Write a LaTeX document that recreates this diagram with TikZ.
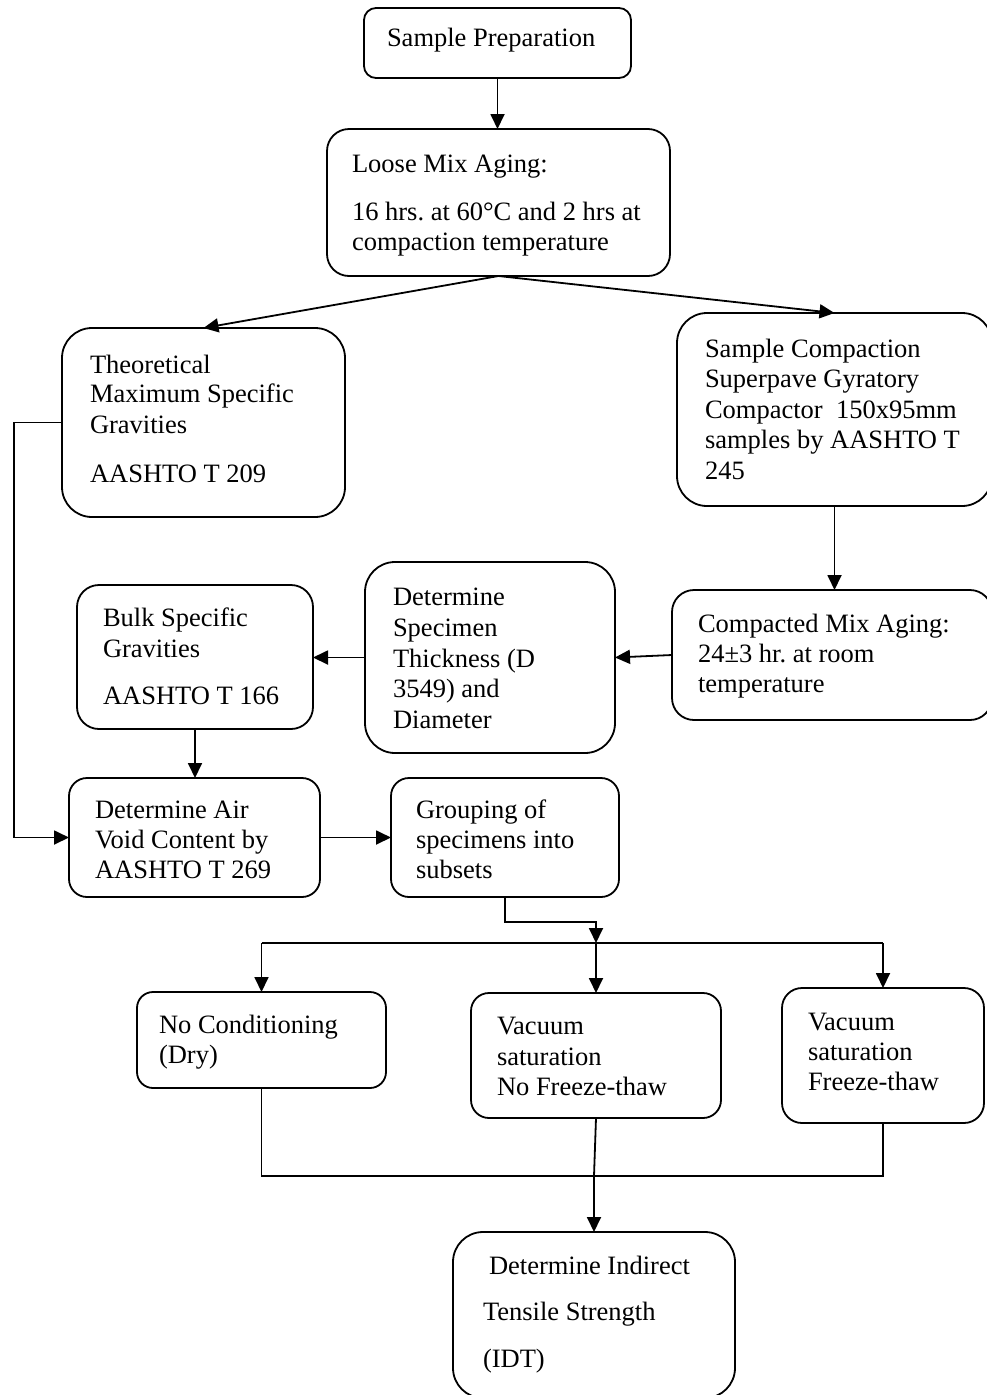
\documentclass[tikz,border=0pt]{standalone}
\usepackage{fontspec}
\setmainfont{Liberation Serif}
\usetikzlibrary{arrows.meta,calc}
\frenchspacing
\tikzset{
  box/.style={draw=black,line width=1.8pt,inner sep=0pt,outer sep=0pt,rectangle},
  txt/.style={inner sep=0pt,outer sep=0pt,anchor=base west,font=\fontsize{26.5}{30.5}\selectfont},
  conn/.style={line width=1.8pt},
  arr/.style={line width=1.8pt,-{Triangle[length=15pt,width=14pt]}}
}
\newcommand{\mybox}[6]{\node[box,rounded corners=#6pt,minimum width=#4pt,minimum height=#5pt,anchor=north west] (#1) at (#2,#3) {};}
\newcommand{\mytl}[4]{\node[txt] (#1) at (#2,#3) {#4};}
\begin{document}
\begin{tikzpicture}[x=1pt,y=-1pt]
\fill[white] (0,0) rectangle (986,1395);
\useasboundingbox (0,0) rectangle (986,1395);
% boxes
\mybox{sp}{364}{8}{267}{70}{12}
\mybox{lm}{327}{129}{343}{147}{22}
\mybox{tm}{62}{328}{283}{189}{30}
\mybox{sc}{677}{313}{315}{193}{30}
\mybox{cm}{672}{590}{320}{130}{22}
\mybox{bk}{77}{585}{236}{144}{22}
\mybox{ds}{365}{562}{250}{191}{30}
\mybox{av}{69}{778}{251}{119}{18}
\mybox{gr}{391}{778}{228}{119}{18}
\mybox{nc}{137}{992}{249}{96}{16}
\mybox{va}{471}{993}{250}{125}{18}
\mybox{vb}{782}{988}{202}{135}{20}
\mybox{idt}{453}{1232}{282}{166}{30}
% texts
\mytl{sp1}{387}{46}{Sample Preparation}
\mytl{lm1}{352}{172}{Loose Mix Aging:}
\mytl{lm2}{352}{220}{16 hrs. at 60°C and 2 hrs at}
\mytl{lm3}{352}{250}{compaction temperature}
\mytl{tm1}{90}{373}{Theoretical}
\mytl{tm2}{90}{402}{Maximum Specific}
\mytl{tm3}{90}{433}{Gravities}
\mytl{tm4}{90}{482}{AASHTO T 209}
\mytl{sc1}{705}{357}{Sample Compaction}
\mytl{sc2}{705}{387}{Superpave Gyratory}
\mytl{sc3}{705}{418}{Compactor\ \ 150x95mm}
\mytl{sc4}{705}{448}{samples by AASHTO T}
\mytl{sc5}{705}{479}{245}
\mytl{cm1}{698}{632}{Compacted Mix Aging:}
\mytl{cm2}{698}{662}{24±3 hr. at room}
\mytl{cm3}{698}{692}{temperature}
\mytl{bk1}{103}{626}{Bulk Specific}
\mytl{bk2}{103}{657}{Gravities}
\mytl{bk3}{103}{704}{AASHTO T 166}
\mytl{ds1}{393}{605}{Determine}
\mytl{ds2}{393}{636}{Specimen}
\mytl{ds3}{393}{667}{Thickness (D}
\mytl{ds4}{393}{697}{3549) and}
\mytl{ds5}{393}{728}{Diameter}
\mytl{av1}{95}{818}{Determine Air}
\mytl{av2}{95}{848}{Void Content by}
\mytl{av3}{95}{878}{AASHTO T 269}
\mytl{gr1}{416}{818}{Grouping of}
\mytl{gr2}{416}{848}{specimens into}
\mytl{gr3}{416}{878}{subsets}
\mytl{nc1}{159}{1033}{No Conditioning}
\mytl{nc2}{159}{1063}{(Dry)}
\mytl{va1}{497}{1034}{Vacuum}
\mytl{va2}{497}{1065}{saturation}
\mytl{va3}{497}{1095}{No Freeze-thaw}
\mytl{vb1}{808}{1030}{Vacuum}
\mytl{vb2}{808}{1060}{saturation}
\mytl{vb3}{808}{1090}{Freeze-thaw}
\mytl{idt1}{489}{1274}{Determine Indirect}
\mytl{idt2}{483}{1320}{Tensile Strength}
\mytl{idt3}{483}{1367}{(IDT)}
% helper coordinates
\coordinate (lft) at (14,0);
\coordinate (j1) at (0,922);
\coordinate (bus) at (596,943);
\coordinate (bot) at (594,1176);
% connectors
\draw[arr] (sp.south) -- (sp.south |- lm.north);
\draw[arr] (lm.south) -- (tm.north);
\draw[arr] (lm.south) -- (sc.north);
\draw[arr] (sc.south) -- (sc.south |- cm.north);
\draw[arr] (cm.west) -- (ds.east);
\draw[arr] (ds.west) -- (ds.west -| bk.east);
\draw[arr] (bk.south) -- (bk.south |- av.north);
\draw[arr] (tm.west) -- (tm.west -| lft) |- (av.west);
\draw[arr] (av.east) -- (gr.west);
\draw[arr] (gr.south) -- (gr.south |- j1) -| (bus);
\draw[conn] (nc.north |- bus) -- (vb.north |- bus);
\draw[arr] (nc.north |- bus) -- (nc.north);
\draw[arr] (bus) -- (bus |- va.north);
\draw[arr] (vb.north |- bus) -- (vb.north);
\draw[conn] (nc.south) -- (nc.south |- bot) -- (vb.south |- bot) -- (vb.south);
\draw[conn] (va.south) -- (bot);
\draw[arr] (bot) -- (bot |- idt.north);
\end{tikzpicture}
\end{document}
